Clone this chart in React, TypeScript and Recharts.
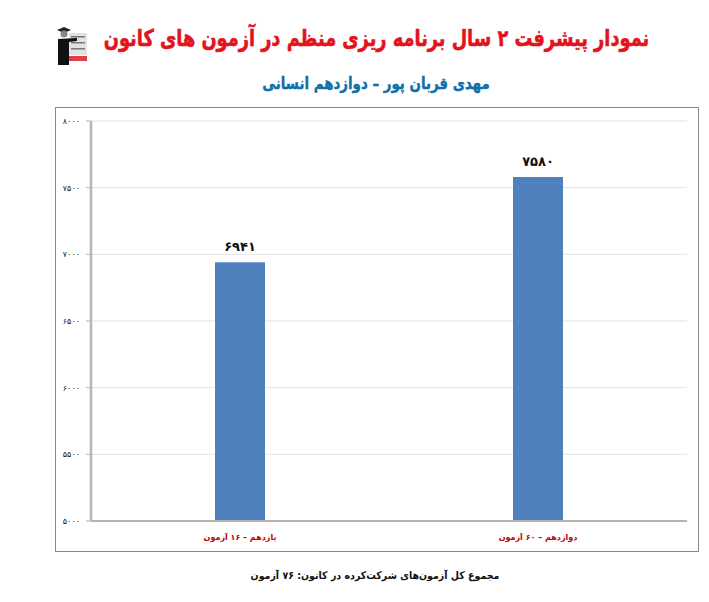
import React from "react";
import { BarChart, Bar, XAxis, YAxis, CartesianGrid, LabelList } from "recharts";

const categories = ["یازدهم – ۱۶ آزمون", "دوازدهم – ۶۰ آزمون"];
const totals = [6941, 7580];
const yTicks = [5000, 5500, 6000, 6500, 7000, 7500, 8000];
const mainTitle = "نمودار پیشرفت ۲ سال برنامه ریزی منظم در آزمون های کانون";
const subTitle = "مهدی قربان پور – دوازدهم انسانی";
const footer = "مجموع کل آزمون‌های شرکت‌کرده در کانون: ۷۶ آزمون";

const data = categories.map((name, i) => ({ name, total: totals[i] }));
const fa = (v: number | string) => new Intl.NumberFormat("fa-IR", { useGrouping: false }).format(Number(v));
const font = "'DejaVu Sans', sans-serif";

const textBase: React.CSSProperties = {
  position: "absolute",
  direction: "rtl",
  whiteSpace: "nowrap",
  fontFamily: font,
  fontWeight: 700,
  lineHeight: 1,
  transformOrigin: "center center",
};

function Logo() {
  return (
    <svg width={33} height={42} viewBox="0 0 33 42" style={{ position: "absolute", left: 55, top: 24 }}>
      <rect x={14} y={9} width={18} height={22} fill="#e2e2e2" />
      <rect x={16} y={12} width={14} height={1.5} fill="#777" />
      <rect x={16} y={18} width={14} height={1.5} fill="#777" />
      <rect x={16} y={24} width={14} height={1.5} fill="#777" />
      <rect x={14} y={32} width={18} height={5} fill="#e0404a" />
      <path d="M2 6 L9 3 L16 6 L9 9 Z" fill="#222" />
      <circle cx={9} cy={10} r={3.5} fill="#888" />
      <path d="M3 15 L22 14 L22 17 L14 18 L14 41 L3 41 Z" fill="#111" />
    </svg>
  );
}

export default function App() {
  return (
    <div style={{ position: "absolute", left: 0, top: 0, width: 709, height: 602, background: "#fff", overflow: "hidden" }}>
      <Logo />
      <div style={{ ...textBase, left: 29, top: 27, width: 700, textAlign: "center", fontSize: 23, color: "#e3121b", transform: "scaleX(0.772)", WebkitTextStroke: "0.6px #e3121b" }}>{mainTitle}</div>
      <div style={{ ...textBase, left: 176, top: 76, width: 400, textAlign: "center", fontSize: 16.5, color: "#0f6fa8", transform: "scaleX(0.81)", WebkitTextStroke: "0.4px #0f6fa8" }}>{subTitle}</div>
      <div style={{ position: "absolute", left: 55, top: 107, width: 642, height: 443, border: "1px solid #8a8a8a" }} />
      <BarChart
        width={709}
        height={602}
        data={data}
        margin={{ top: 121, right: 22, bottom: 51, left: 55 }}
        style={{ position: "absolute", left: 0, top: 0 }}
      >
        <CartesianGrid horizontal vertical={false} stroke="#e2e2e2" strokeWidth={1} />
        <XAxis
          dataKey="name"
          height={30}
          interval={0}
          stroke="#b5b5b5"
          strokeWidth={2}
          tickLine={false}
          tickSize={3}
          tick={{ fill: "#c00000", fontSize: 8, fontWeight: 700, fontFamily: font, direction: "rtl", dy: 8 } as any}
        />
        <YAxis
          width={36}
          domain={[5000, 8000]}
          ticks={yTicks}
          interval={0}
          tickFormatter={fa}
          stroke="#b5b5b5"
          strokeWidth={2.5}
          tickLine={{ stroke: "#b5b5b5", strokeWidth: 1 }}
          tickSize={5}
          tick={{ fill: "#222", fontSize: 8, fontFamily: font, dx: -4 } as any}
        />
        <Bar dataKey="total" fill="#4f81bd" barSize={50} isAnimationActive={false}>
          <LabelList
            dataKey="total"
            position="top"
            offset={11}
            formatter={fa}
            style={{ fill: "#111", fontSize: 13, fontWeight: 700, fontFamily: font }}
          />
        </Bar>
      </BarChart>
      <div style={{ ...textBase, left: 175, top: 570, width: 400, textAlign: "center", fontSize: 10.5, color: "#111", transform: "scaleX(0.9)" }}>{footer}</div>
    </div>
  );
}
